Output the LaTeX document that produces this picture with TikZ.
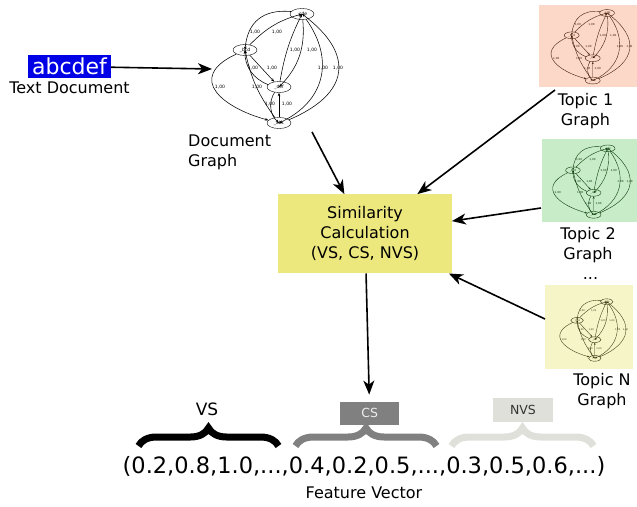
\documentclass[tikz,border=0pt]{standalone}
\usepackage{fontspec}
\setmainfont{DejaVu Sans}
\usetikzlibrary{shapes.geometric,arrows.meta,decorations.pathreplacing}

\definecolor{simyellow}{RGB}{236,232,126}
\definecolor{topicpeach}{RGB}{252,216,200}
\definecolor{topicgreen}{RGB}{200,236,200}
\definecolor{topicyellow}{RGB}{245,245,200}
\definecolor{peachline}{RGB}{70,30,10}
\definecolor{greenline}{RGB}{10,60,10}
\definecolor{yellowline}{RGB}{50,50,10}
\definecolor{docblue}{RGB}{0,0,230}
\definecolor{csgray}{RGB}{128,128,128}
\definecolor{nvsgray}{RGB}{224,224,218}

\tikzset{
  gnode/.style={draw, ellipse, inner sep=0pt, minimum width=24pt, minimum height=11pt, font=\fontsize{4.5}{4.5}\selectfont},
  gedge/.style={-{Stealth[length=3.5pt,width=2.6pt]}, line width=0.55pt},
  glabel/.style={inner sep=0pt, font=\fontsize{4.5}{4.5}\selectfont},
  bigarrow/.style={-{Stealth[length=14pt,width=11pt,inset=4pt]}, line width=1.6pt},
  bigtext/.style={font=\fontsize{16}{20}\selectfont, align=center, inner sep=0pt},
  topicbox/.style={inner sep=0pt, minimum width=#1},
  vecbrace/.style={decorate, decoration={brace, amplitude=18pt}, line width=7pt},
}

%%%% term graph: prefix, colour, placement
\newcommand{\termgraph}[3]{%
  \begin{scope}[#3, transform shape, name prefix=#1-, color=#2]
    \node[gnode] (cde) at (112,-14) {\_cde};
    \node[gnode] (bcd) at (55,-50) {\_bcd};
    \node[gnode] (def) at (89,-87) {\_def};
    \node[gnode] (abc) at (89,-123) {\_abc};
    \draw[gedge] (cde) to[bend right=45, looseness=1.2] (bcd);
    \draw[gedge] (bcd) to[bend left=15] (cde);
    \draw[gedge] (bcd) -- (def);
    \draw[gedge] (def) to[bend left=35] (bcd);
    \draw[gedge] (def) to[bend left=8] (cde);
    \draw[gedge] (cde) to[bend left=25] (def);
    \draw[gedge] (cde) to[bend left=50, looseness=1.2] (abc);
    \draw[gedge] (abc) to[bend right=60, looseness=1.6] (cde);
    \draw[gedge] (bcd) to[out=205, in=165, looseness=1.8] (abc);
    \draw[gedge] (abc) to[bend left=12] (bcd);
    \draw[gedge] (def) to[bend right=40] (abc);
    \draw[gedge] (abc) -- (def);
    \foreach \lx/\ly [count=\i] in {65/32,87/32,63/68,82/68,105/50,122/50,133/68,148/68,30/87,67/87,80/104,97/104}
      \node[glabel] (lab\i) at (\lx,-\ly) {1,00};
  \end{scope}}

\begin{document}
\begin{tikzpicture}[x=1pt,y=1pt]
\useasboundingbox (0,0) rectangle (637,-506);

%%%% text document
\node[fill=docblue, text=white, inner sep=0pt, minimum width=83pt, minimum height=23pt,
      font=\fontsize{22}{22}\selectfont] (textdoc) at (69.5,-66.5) {abcdef};
\node[bigtext] (textdoclbl) at (69.5,-87.5) {Text Document};

%%%% document graph
\termgraph{doc}{black}{shift={(190,0)}}
\node[bigtext, align=left, anchor=west] (doclbl) at (188,-152) {Document\\Graph};

%%%% topic graphs
\node[topicbox=97.7pt, minimum height=82pt, fill=topicpeach] (topic1) at (588.2,-46) {};
\termgraph{t1}{peachline}{shift={(537.6,-4.3)}, scale=0.62, gedge/.style={-{Stealth[length=2.4pt,width=1.8pt]}, line width=0.4pt}}
\node[bigtext] (topic1lbl) at (585.5,-111.5) {Topic 1\\Graph};

\node[topicbox=95.3pt, minimum height=82.7pt, fill=topicgreen] (topic2) at (589.3,-180.7) {};
\termgraph{t2}{greenline}{shift={(539.4,-139.8)}, scale=0.61, gedge/.style={-{Stealth[length=2.4pt,width=1.8pt]}, line width=0.4pt}}
\node[bigtext] (topic2lbl) at (588,-245) {Topic 2\\Graph};
\node[bigtext] (dots) at (590.5,-279) {...};

\node[topicbox=88pt, minimum height=84pt, fill=topicyellow] (topicN) at (589,-327) {};
\termgraph{tN}{yellowline}{shift={(548.5,-294.4)}, scale=0.52, gedge/.style={-{Stealth[length=2.2pt,width=1.6pt]}, line width=0.35pt}}
\node[bigtext] (topicNlbl) at (602,-391) {Topic N\\Graph};

%%%% similarity
\node[bigtext, fill=simyellow, minimum width=173.4pt, minimum height=79pt] (sim) at (365,-233.8)
  {Similarity\\Calculation\\(VS, CS, NVS)};

%%%% arrows
\coordinate (docin) at (212,-69);
\coordinate (docout) at (312,-132);
\coordinate (t1out) at (555,-90);
\coordinate (t2out) at (541,-208);
\coordinate (tNout) at (545,-319);
\draw[bigarrow] (textdoc) -- (docin);
\draw[bigarrow] (docout) -- (sim);
\draw[bigarrow] (t1out) -- (sim);
\draw[bigarrow] (t2out) -- (sim);
\draw[bigarrow] (tNout) -- (sim);

%%%% feature vector
\node[inner sep=0pt, font=\fontsize{17}{17}\selectfont] (vslbl) at (207,-409) {VS};
\node[fill=csgray, text=white!93!black, inner sep=0pt, minimum width=59pt, minimum height=23pt,
      font=\fontsize{12.5}{12.5}\selectfont] (csbox) at (369.7,-413.3) {CS};
\node[fill=nvsgray, text=black!80, inner sep=0pt, minimum width=60pt, minimum height=24pt,
      font=\fontsize{12.5}{12.5}\selectfont] (nvsbox) at (523,-410) {NVS};
\draw[bigarrow, shorten >=7pt] (sim) -- (csbox);

\draw[vecbrace, black] (138.5,-446) -- (278.5,-446);
\draw[vecbrace, csgray] (295.5,-446) -- (436.5,-446);
\draw[vecbrace, nvsgray] (451.5,-446) -- (593.5,-446);

\node[inner sep=0pt, font=\fontsize{22.5}{22.5}\selectfont] (vector) at (364,-466)
  {(0.2,0.8,1.0,...,0.4,0.2,0.5,...,0.3,0.5,0.6,...)};
\node[bigtext] (veclbl) at (364,-493) {Feature Vector};

\end{tikzpicture}
\end{document}
